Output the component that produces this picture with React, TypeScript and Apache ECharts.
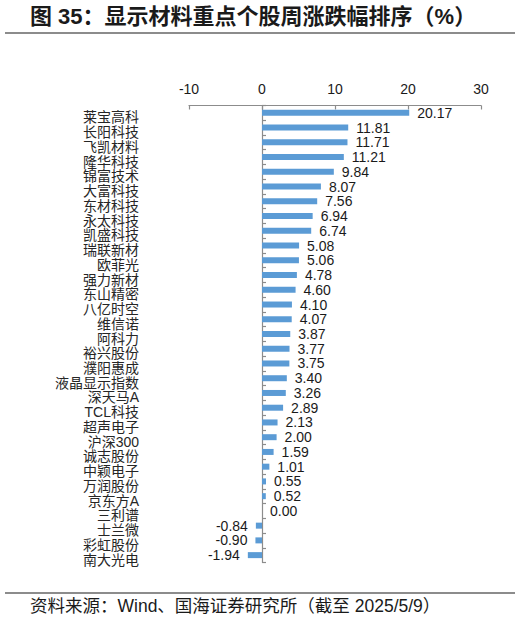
import React, { useEffect, useRef } from 'react';
import * as echarts from 'echarts';

const categories = [
  '莱宝高科', '长阳科技', '飞凯材料', '隆华科技', '锦富技术', '大富科技', '东材科技', '永太科技',
  '凯盛科技', '瑞联新材', '欧菲光', '强力新材', '东山精密', '八亿时空', '维信诺', '阿科力',
  '裕兴股份', '濮阳惠成', '液晶显示指数', '深天马A', 'TCL科技', '超声电子', '沪深300', '诚志股份',
  '中颖电子', '万润股份', '京东方A', '三利谱', '士兰微', '彩虹股份', '南大光电',
];

const changes = [
  20.17, 11.81, 11.71, 11.21, 9.84, 8.07, 7.56, 6.94,
  6.74, 5.08, 5.06, 4.78, 4.6, 4.1, 4.07, 3.87,
  3.77, 3.75, 3.4, 3.26, 2.89, 2.13, 2.0, 1.59,
  1.01, 0.55, 0.52, 0.0, -0.84, -0.9, -1.94,
];

const axisMin = -10;
const axisMax = 30;
const axisStep = 10;

const titleText = '图 35：显示材料重点个股周涨跌幅排序（%）';
const sourceText = '资料来源：Wind、国海证券研究所（截至 2025/5/9）';

const FONT = '"Liberation Sans", Arial, "Noto Sans CJK SC", sans-serif';
const AXIS_GRAY = '#8c8c8c';

const App: React.FC = () => {
  const chartRef = useRef<HTMLDivElement>(null);

  useEffect(() => {
    if (!chartRef.current) return;
    const chart = echarts.init(chartRef.current, undefined, { renderer: 'svg' });

    const option: any = {
      animation: false,
      textStyle: { fontFamily: FONT },
      grid: {
        left: 189,
        right: 40,
        top: 105.5,
        height: 457,
        containLabel: false,
        outerBoundsMode: 'none',
      },
      xAxis: {
        type: 'value',
        position: 'top',
        min: axisMin,
        max: axisMax,
        interval: axisStep,
        splitLine: { show: false },
        axisLine: { show: true, lineStyle: { color: AXIS_GRAY, width: 1.2 } },
        axisTick: { show: true, inside: true, length: 4, lineStyle: { color: AXIS_GRAY, width: 1.2 } },
        axisLabel: { margin: 10, fontSize: 14, color: '#1a1a1a', fontFamily: FONT },
      },
      yAxis: {
        type: 'category',
        inverse: true,
        data: categories,
        axisLine: { show: true, onZero: true, lineStyle: { color: AXIS_GRAY, width: 1.2 } },
        axisTick: { show: true, inside: true, length: 4, lineStyle: { color: AXIS_GRAY, width: 1.2 } },
        axisLabel: {
          margin: 50,
          fontSize: 14,
          color: '#262626',
          fontFamily: FONT,
          verticalAlign: 'top',
          lineHeight: 9,
          interval: 0,
        },
      },
      series: [
        {
          type: 'bar',
          barWidth: 6,
          itemStyle: { color: '#5b9bd5' },
          label: {
            show: true,
            distance: 8,
            fontSize: 14,
            color: '#1a1a1a',
            fontFamily: FONT,
            formatter: (p: any) => Number(p.value).toFixed(2),
          },
          data: changes.map((v) => ({
            value: v,
            label: { position: v < 0 ? 'left' : 'right' },
          })),
        },
      ],
      graphic: [
        {
          type: 'text',
          left: 30,
          top: 5,
          style: {
            text: titleText,
            fontSize: 22,
            fontWeight: 'bold',
            fontFamily: FONT,
            fill: '#1a1a1a',
          },
        },
        {
          type: 'line',
          shape: { x1: 5, y1: 33, x2: 515, y2: 33 },
          style: { stroke: '#666', lineWidth: 1.5 },
        },
        {
          type: 'line',
          shape: { x1: 5, y1: 593, x2: 515, y2: 593 },
          style: { stroke: '#666', lineWidth: 1.5 },
        },
        {
          type: 'text',
          left: 30,
          top: 597,
          style: {
            text: sourceText,
            fontSize: 17.5,
            fontFamily: FONT,
            fill: '#1a1a1a',
          },
        },
      ],
    };

    chart.setOption(option);

    return () => {
      chart.dispose();
    };
  }, []);

  return (
    <div
      ref={chartRef}
      style={{ position: 'fixed', left: 0, top: 0, width: '521px', height: '621px', background: '#fff' }}
    />
  );
};

export default App;
